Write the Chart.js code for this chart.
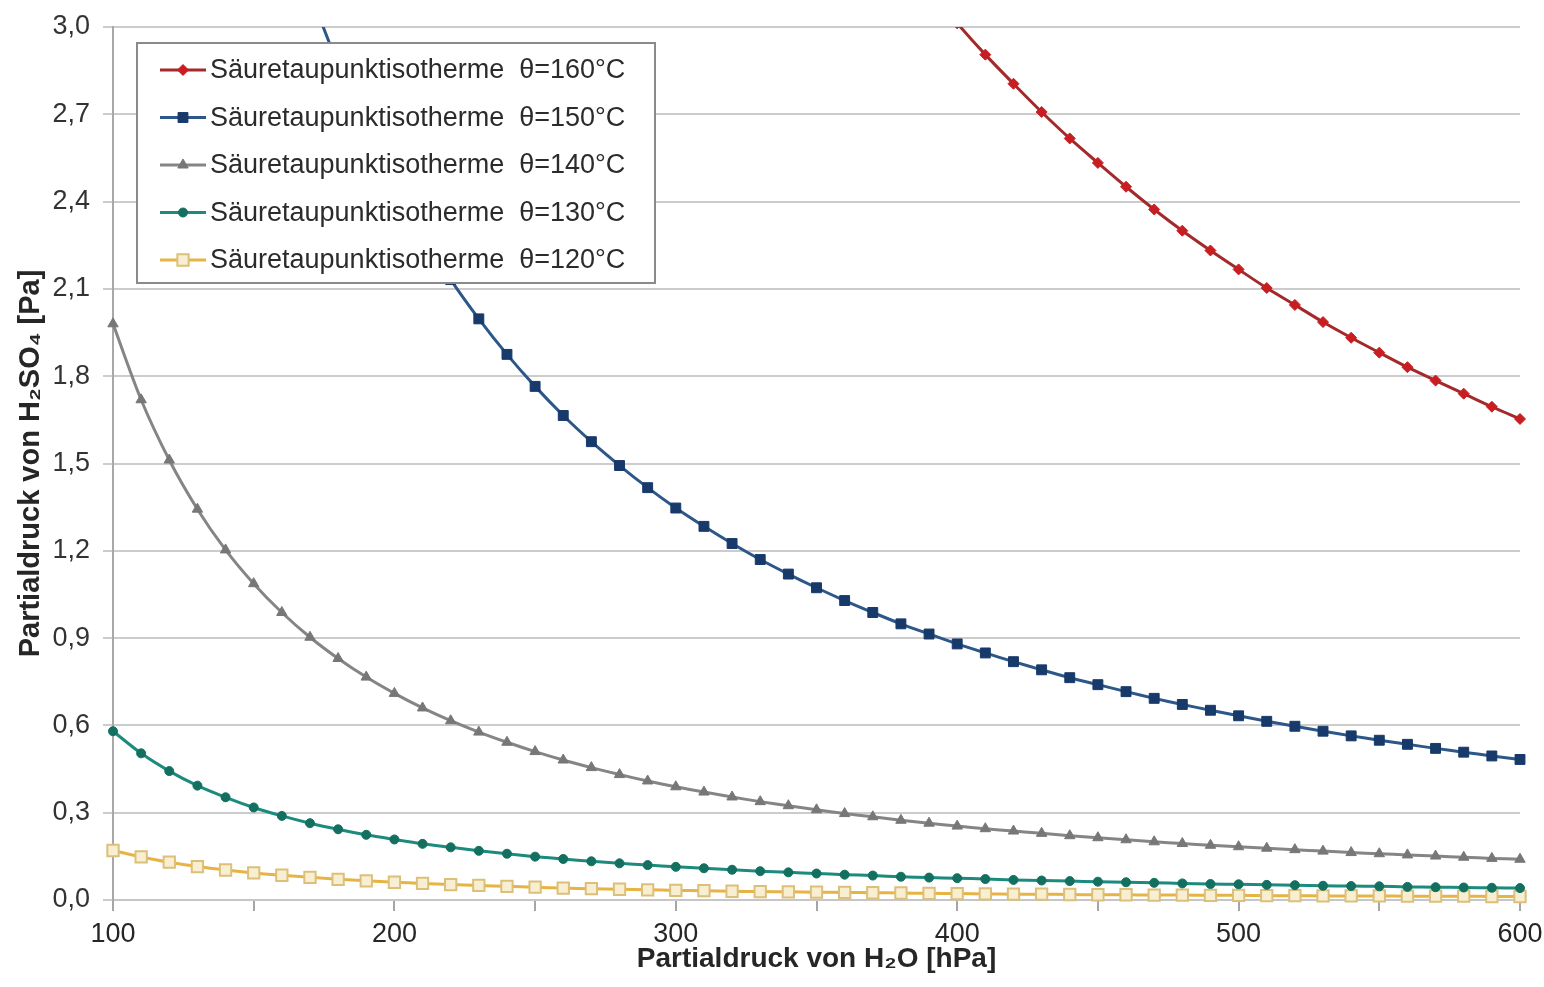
<!DOCTYPE html>
<html>
<head>
<meta charset="utf-8">
<title>Säuretaupunktisothermen</title>
<script src="https://cdn.jsdelivr.net/npm/chart.js@4/dist/chart.umd.min.js"></script>
<style>
  html, body { margin: 0; padding: 0; background: #fff; }
  #wrap { width: 1544px; height: 987px; }
</style>
</head>
<body>
<div id="wrap"><canvas id="chart" width="1544" height="987"></canvas></div>
<script>
// Partialdruck H2O [hPa]
const pressureH2O = [100, 110, 120, 130, 140, 150, 160, 170, 180, 190,
  200, 210, 220, 230, 240, 250, 260, 270, 280, 290,
  300, 310, 320, 330, 340, 350, 360, 370, 380, 390,
  400, 410, 420, 430, 440, 450, 460, 470, 480, 490,
  500, 510, 520, 530, 540, 550, 560, 570, 580, 590, 600];

// Partialdruck H2SO4 [Pa]
const iso160 = [null, null, null, null, null, null, null, null, null, null,
  null, null, null, null, null, null, null, null, 5.11, 4.85,
  4.61, 4.39, 4.19, 4.01, 3.83, 3.67, 3.52, 3.38, 3.25, 3.13,
  3.013, 2.905, 2.805, 2.708, 2.617, 2.533, 2.451, 2.373, 2.300, 2.232,
  2.167, 2.103, 2.045, 1.986, 1.932, 1.881, 1.831, 1.785, 1.740, 1.695, 1.653];

const iso150 = [null, null, null, null, 4.163, 3.759, 3.417, 3.124, 2.870, 2.650,
  2.456, 2.284, 2.132, 1.997, 1.875, 1.765, 1.665, 1.575, 1.493, 1.417,
  1.347, 1.284, 1.225, 1.170, 1.120, 1.073, 1.029, 0.988, 0.949, 0.914,
  0.880, 0.849, 0.819, 0.791, 0.764, 0.740, 0.716, 0.693, 0.672, 0.652,
  0.633, 0.614, 0.597, 0.580, 0.564, 0.549, 0.535, 0.521, 0.508, 0.495, 0.483];

const iso140 = [1.980, 1.719, 1.512, 1.343, 1.203, 1.087, 0.988, 0.903, 0.830, 0.766,
  0.710, 0.660, 0.616, 0.577, 0.542, 0.510, 0.481, 0.455, 0.431, 0.409,
  0.389, 0.371, 0.354, 0.338, 0.324, 0.310, 0.297, 0.286, 0.274, 0.264,
  0.254, 0.245, 0.237, 0.229, 0.221, 0.214, 0.207, 0.200, 0.194, 0.188,
  0.183, 0.178, 0.173, 0.168, 0.163, 0.159, 0.155, 0.151, 0.147, 0.143, 0.140];

const iso130 = [0.580, 0.504, 0.443, 0.393, 0.353, 0.318, 0.289, 0.264, 0.243, 0.224,
  0.208, 0.193, 0.181, 0.169, 0.159, 0.149, 0.141, 0.133, 0.126, 0.120,
  0.114, 0.109, 0.104, 0.099, 0.095, 0.091, 0.087, 0.084, 0.080, 0.077,
  0.075, 0.072, 0.069, 0.067, 0.065, 0.063, 0.061, 0.059, 0.057, 0.055,
  0.054, 0.052, 0.051, 0.049, 0.048, 0.047, 0.045, 0.044, 0.043, 0.042, 0.041];

const iso120 = [0.170, 0.148, 0.130, 0.115, 0.103, 0.093, 0.085, 0.078, 0.071, 0.066,
  0.061, 0.057, 0.053, 0.050, 0.047, 0.044, 0.041, 0.039, 0.037, 0.035,
  0.033, 0.032, 0.030, 0.029, 0.028, 0.027, 0.026, 0.025, 0.024, 0.023,
  0.022, 0.021, 0.020, 0.020, 0.019, 0.018, 0.018, 0.017, 0.017, 0.016,
  0.016, 0.015, 0.015, 0.014, 0.014, 0.014, 0.013, 0.013, 0.013, 0.012, 0.012];

const seriesLabels = [
  'Säuretaupunktisotherme  θ=160°C',
  'Säuretaupunktisotherme  θ=150°C',
  'Säuretaupunktisotherme  θ=140°C',
  'Säuretaupunktisotherme  θ=130°C',
  'Säuretaupunktisotherme  θ=120°C'
];

const xTitle = 'Partialdruck von H₂O [hPa]';
const yTitle = 'Partialdruck von H₂SO₄ [Pa]';

const FONT = "'Liberation Sans', Arial, sans-serif";

function toPoints(values) {
  return pressureH2O.map((x, i) => ({ x: x, y: values[i] }));
}

function series(label, values, line, point, style, radius, fill) {
  return {
    label: label,
    data: toPoints(values),
    borderColor: line,
    borderWidth: 3,
    pointStyle: style,
    pointRadius: radius,
    pointBackgroundColor: fill || point,
    pointBorderColor: point,
    pointBorderWidth: fill ? 2 : 1,
    tension: 0.3,
    clip: { left: 12, right: 12, top: 0, bottom: 12 }
  };
}

// legend box inside the plot, like the original
const boxLegend = {
  id: 'boxLegend',
  afterDatasetsDraw(chart) {
    const ctx = chart.ctx;
    const x0 = 137, y0 = 43, w = 518, h = 240;
    ctx.save();
    ctx.fillStyle = '#ffffff';
    ctx.fillRect(x0, y0, w, h);
    ctx.strokeStyle = '#8a8a8a';
    ctx.lineWidth = 2;
    ctx.strokeRect(x0, y0, w, h);
    ctx.font = '27px ' + FONT;
    ctx.textBaseline = 'middle';
    chart.data.datasets.forEach((ds, i) => {
      const y = 70 + i * 47.5;
      ctx.strokeStyle = ds.borderColor;
      ctx.lineWidth = 3;
      ctx.beginPath();
      ctx.moveTo(160, y);
      ctx.lineTo(206, y);
      ctx.stroke();
      ctx.fillStyle = ds.pointBackgroundColor;
      ctx.strokeStyle = ds.pointBorderColor;
      ctx.lineWidth = ds.pointBorderWidth;
      Chart.helpers.drawPoint(ctx, { pointStyle: ds.pointStyle, radius: ds.pointRadius, borderWidth: ds.pointBorderWidth }, 183, y);
      ctx.fillStyle = '#2b2b2b';
      ctx.fillText(ds.label, 210, y + 1);
    });
    ctx.restore();
  }
};

const ctx = document.getElementById('chart').getContext('2d');
const chart = new Chart(ctx, {
  type: 'line',
  data: {
    datasets: [
      series(seriesLabels[0], iso160, '#a3292b', '#c81e22', 'rectRot', 5.5),
      series(seriesLabels[1], iso150, '#2c5788', '#173a6b', 'rect', 7),
      series(seriesLabels[2], iso140, '#858585', '#777777', 'triangle', 6),
      series(seriesLabels[3], iso130, '#1c8a7c', '#137060', 'circle', 4.5),
      series(seriesLabels[4], iso120, '#e7b443', '#dcc07a', 'rect', 8, '#f8eed2')
    ]
  },
  options: {
    responsive: false,
    animation: false,
    layout: { padding: { top: 27, right: 24, left: 0, bottom: 0 } },
    plugins: {
      legend: { display: false },
      tooltip: { enabled: false }
    },
    scales: {
      x: {
        type: 'linear',
        min: 100,
        max: 600,
        ticks: {
          stepSize: 50,
          color: '#262626',
          font: { family: FONT, size: 27 },
          padding: 7,
          maxRotation: 0,
          callback: v => (v % 100 === 0 ? String(v) : '')
        },
        grid: { drawOnChartArea: false, drawTicks: true, tickLength: 11, color: '#a6a6a6', lineWidth: 2 },
        border: { display: true, color: '#c6c6c6', width: 2 },
        title: {
          display: true,
          text: xTitle,
          color: '#262626',
          font: { family: FONT, size: 28, weight: 'bold' },
          padding: { top: 0, bottom: 11 }
        },
        afterFit: s => { s.height = 87; s.paddingLeft = 0; s.paddingRight = 0; }
      },
      y: {
        min: 0,
        max: 3,
        ticks: {
          stepSize: 0.3,
          color: '#333333',
          font: { family: FONT, size: 27 },
          padding: 13,
          callback: v => v.toFixed(1).replace('.', ',')
        },
        grid: { color: '#cccccc', lineWidth: 2, tickLength: 10 },
        border: { display: true, color: '#a8a8a8', width: 2 },
        title: {
          display: true,
          text: yTitle,
          color: '#262626',
          font: { family: FONT, size: 29, weight: 'bold' },
          padding: { top: 14, bottom: 0 }
        },
        afterFit: s => { s.width = 113; s.paddingTop = 0; s.paddingBottom = 0; }
      }
    }
  },
  plugins: [boxLegend]
});
</script>
</body>
</html>
